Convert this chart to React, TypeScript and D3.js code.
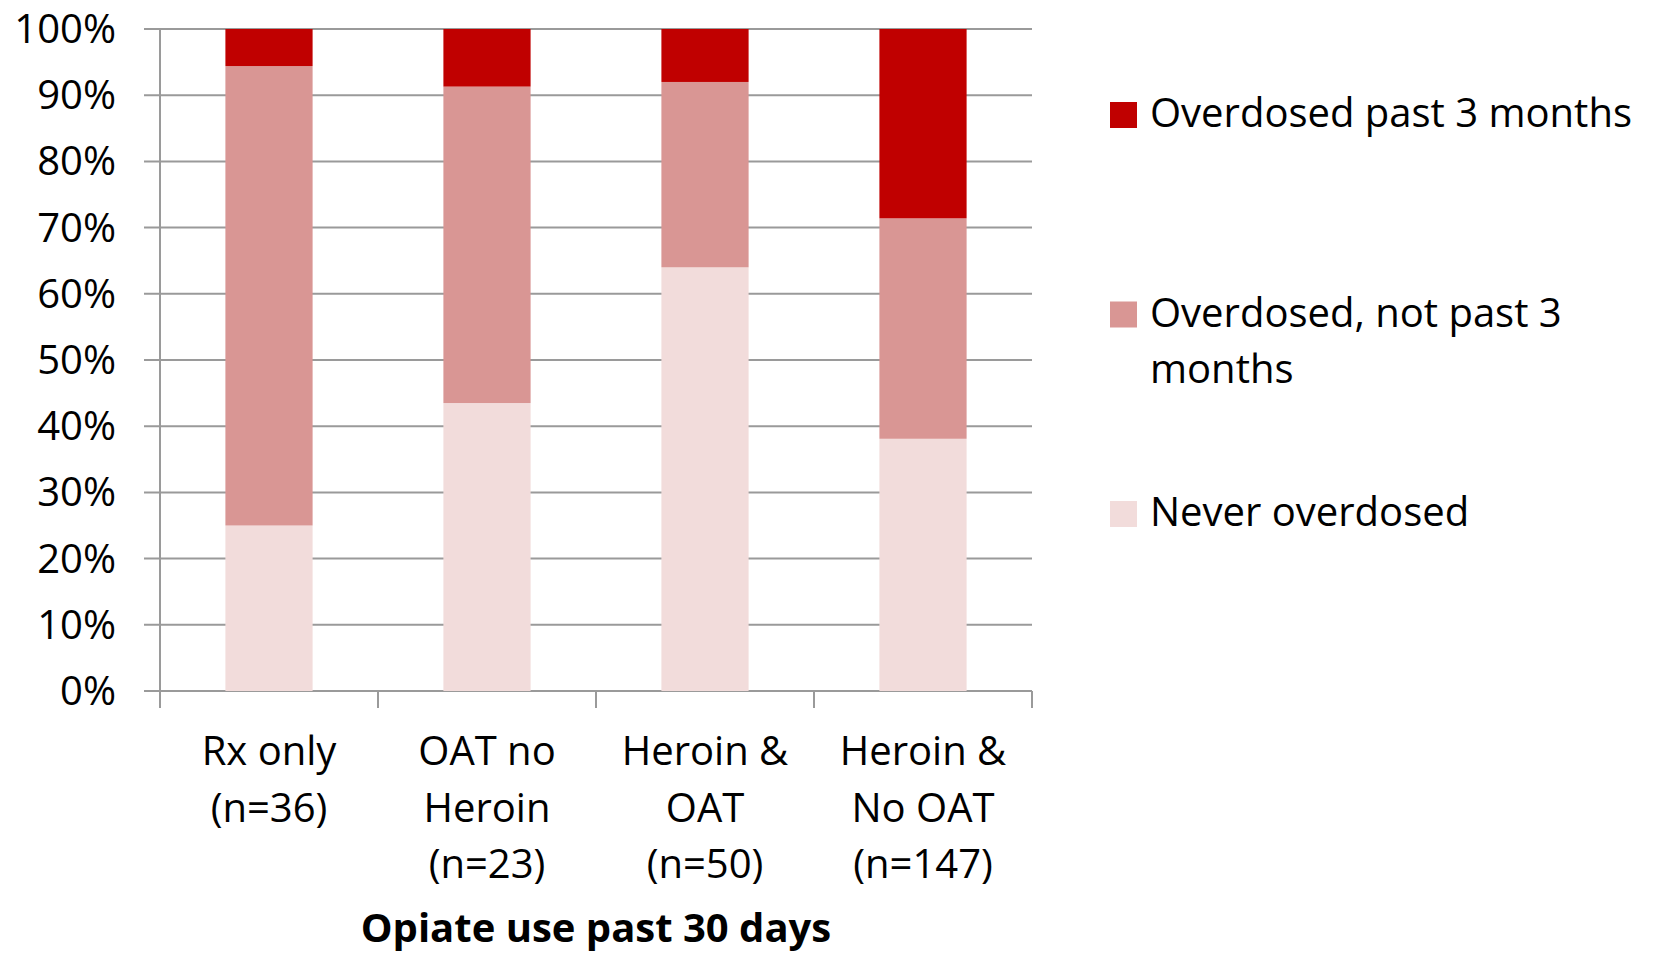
import React from "react";
import * as d3 from "d3";

// Opiate-use groups (x axis), each label split into its display lines
const categories = ["Rx only", "OAT no Heroin", "Heroin & OAT", "Heroin & No OAT"];
const categoryLines = [
  ["Rx only", "(n=36)"],
  ["OAT no", "Heroin", "(n=23)"],
  ["Heroin &", "OAT", "(n=50)"],
  ["Heroin &", "No OAT", "(n=147)"],
];

// Percent of each group, stacked bottom to top
const neverOverdosed = [25.0, 43.5, 64.0, 38.1];
const overdosedNotPast3 = [69.4, 47.8, 28.0, 33.3];
const overdosedPast3 = [5.6, 8.7, 8.0, 28.6];

const seriesKeys = ["never", "notPast", "past"];
const seriesNames = ["Never overdosed", "Overdosed, not past 3 months", "Overdosed past 3 months"];
const seriesColors = ["#F2DCDB", "#D99694", "#C00000"];

const yTicks = [0, 10, 20, 30, 40, 50, 60, 70, 80, 90, 100];
const xTitle = "Opiate use past 30 days";

// Legend entries top to bottom, with wrapped lines
const legendItems = [
  { key: "past", lines: ["Overdosed past 3 months"] },
  { key: "notPast", lines: ["Overdosed, not past 3", "months"] },
  { key: "never", lines: ["Never overdosed"] },
];

const W = 1659;
const H = 953;
const plot = { left: 160, right: 1032, top: 29, bottom: 691 };
const FONT = "'Open Sans', Lato, sans-serif";
const FS = 40;
const LINE = 56.5;
const GRID = "#9a9a9a";

export default function App() {
  const rows = categories.map((c, i) => ({
    category: c,
    never: neverOverdosed[i],
    notPast: overdosedNotPast3[i],
    past: overdosedPast3[i],
  }));

  const x = d3
    .scaleBand<string>()
    .domain(categories)
    .range([plot.left, plot.right])
    .paddingInner(0.6)
    .paddingOuter(0.3);

  const y = d3.scaleLinear().domain([0, 100]).range([plot.bottom, plot.top]);

  const stacked = d3.stack<any>().keys(seriesKeys)(rows);
  const step = x.step();
  const boundaries = d3.range(categories.length + 1).map((i) => plot.left + i * step);

  return (
    <svg
      width={W}
      height={H}
      style={{ position: "absolute", left: 0, top: 0, display: "block", background: "#fff" }}
      fontFamily={FONT}
    >
      {/* horizontal gridlines, extended left as tick marks */}
      {yTicks.map((t) => (
        <line key={"g" + t} x1={plot.left - 16} x2={plot.right} y1={y(t)} y2={y(t)} stroke={GRID} strokeWidth={2} />
      ))}
      {/* vertical axis */}
      <line x1={plot.left} x2={plot.left} y1={plot.top} y2={plot.bottom + 17} stroke={GRID} strokeWidth={2} />
      {/* category boundary ticks */}
      {boundaries.map((bx, i) => (
        <line key={"t" + i} x1={bx} x2={bx} y1={plot.bottom} y2={plot.bottom + 17} stroke={GRID} strokeWidth={2} />
      ))}

      {/* stacked bars */}
      {stacked.map((layer, si) => (
        <g key={layer.key} fill={seriesColors[si]}>
          {layer.map((d, ci) => (
            <rect
              key={ci}
              x={x(categories[ci])}
              width={x.bandwidth()}
              y={y(d[1])}
              height={y(d[0]) - y(d[1])}
            />
          ))}
        </g>
      ))}

      {/* y tick labels */}
      {yTicks.map((t) => (
        <text key={"l" + t} x={116} y={y(t) + 14} textAnchor="end" fontSize={FS} fill="#000">
          {t}%
        </text>
      ))}

      {/* category labels */}
      {categoryLines.map((lines, ci) => (
        <text
          key={"c" + ci}
          textAnchor="middle"
          fontSize={FS}
          fill="#000"
          x={(x(categories[ci]) as number) + x.bandwidth() / 2}
        >
          {lines.map((ln, li) => (
            <tspan key={li} x={(x(categories[ci]) as number) + x.bandwidth() / 2} y={765 + li * LINE}>
              {ln}
            </tspan>
          ))}
        </text>
      ))}

      {/* x axis title */}
      <text x={(plot.left + plot.right) / 2} y={942} textAnchor="middle" fontSize={FS} fontWeight="bold" fill="#000">
        {xTitle}
      </text>

      {/* legend */}
      {legendItems.map((item, i) => {
        const si = seriesKeys.indexOf(item.key);
        const top = 102 + i * 199.5;
        return (
          <g key={item.key}>
            <rect x={1110} y={top} width={27} height={26} fill={seriesColors[si]} />
            <text fontSize={FS} fill="#000">
              {item.lines.map((ln, li) => (
                <tspan key={li} x={1150} y={top + 25 + li * LINE}>
                  {ln}
                </tspan>
              ))}
            </text>
          </g>
        );
      })}
    </svg>
  );
}
